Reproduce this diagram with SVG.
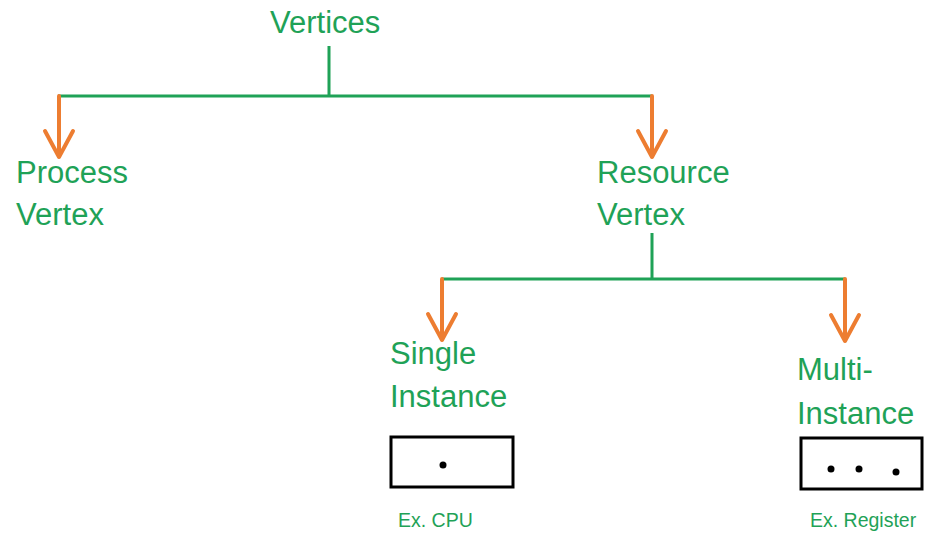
<svg xmlns="http://www.w3.org/2000/svg" width="926" height="533" viewBox="0 0 926 533">
<style>
.lbl{font-family:"Liberation Sans",Arial,sans-serif;font-size:31px;fill:#1fa257}
.ex{font-family:"Liberation Sans",Arial,sans-serif;font-size:19.5px;fill:#1fa257}
.g{stroke:#1fa257;stroke-width:3;fill:none}
.o{stroke:#ed7d31;stroke-width:4;fill:none;stroke-linecap:round;stroke-linejoin:round}
.box{fill:#fff;stroke:#000;stroke-width:3}
</style>
<rect width="926" height="533" fill="#fff"/>
<g id="connectors">
<path class="g" d="M329 46V96M58 96H652"/>
<path class="o" d="M59 96V157M45 131L59 157L73 131"/>
<path class="o" d="M652 96V157M638 131L652 157L666 131"/>
<path class="g" d="M652 233V279M442 279H845"/>
<path class="o" d="M442 279V340M428 314L442 340L456 314"/>
<path class="o" d="M845 279V341M831 315L845 341L859 315"/>
</g>
<g id="vertices"><text class="lbl" x="270" y="33">Vertices</text></g>
<g id="process"><text class="lbl" x="16" y="183">Process</text><text class="lbl" x="16" y="225">Vertex</text></g>
<g id="resource"><text class="lbl" x="597" y="183">Resource</text><text class="lbl" x="597" y="225">Vertex</text></g>
<g id="single"><text class="lbl" x="390" y="364">Single</text><text class="lbl" x="390" y="407">Instance</text>
<rect class="box" x="391" y="437" width="122" height="50"/><circle cx="443" cy="465" r="3.5"/>
<text class="ex" x="398" y="527">Ex. CPU</text></g>
<g id="multi"><text class="lbl" x="797" y="380">Multi-</text><text class="lbl" x="797" y="424">Instance</text>
<rect class="box" x="801" y="438" width="121" height="51"/><circle cx="831" cy="469" r="3.5"/><circle cx="859" cy="469" r="3.5"/><circle cx="896" cy="472" r="3.5"/>
<text class="ex" x="810" y="527">Ex. Register</text></g>
</svg>
